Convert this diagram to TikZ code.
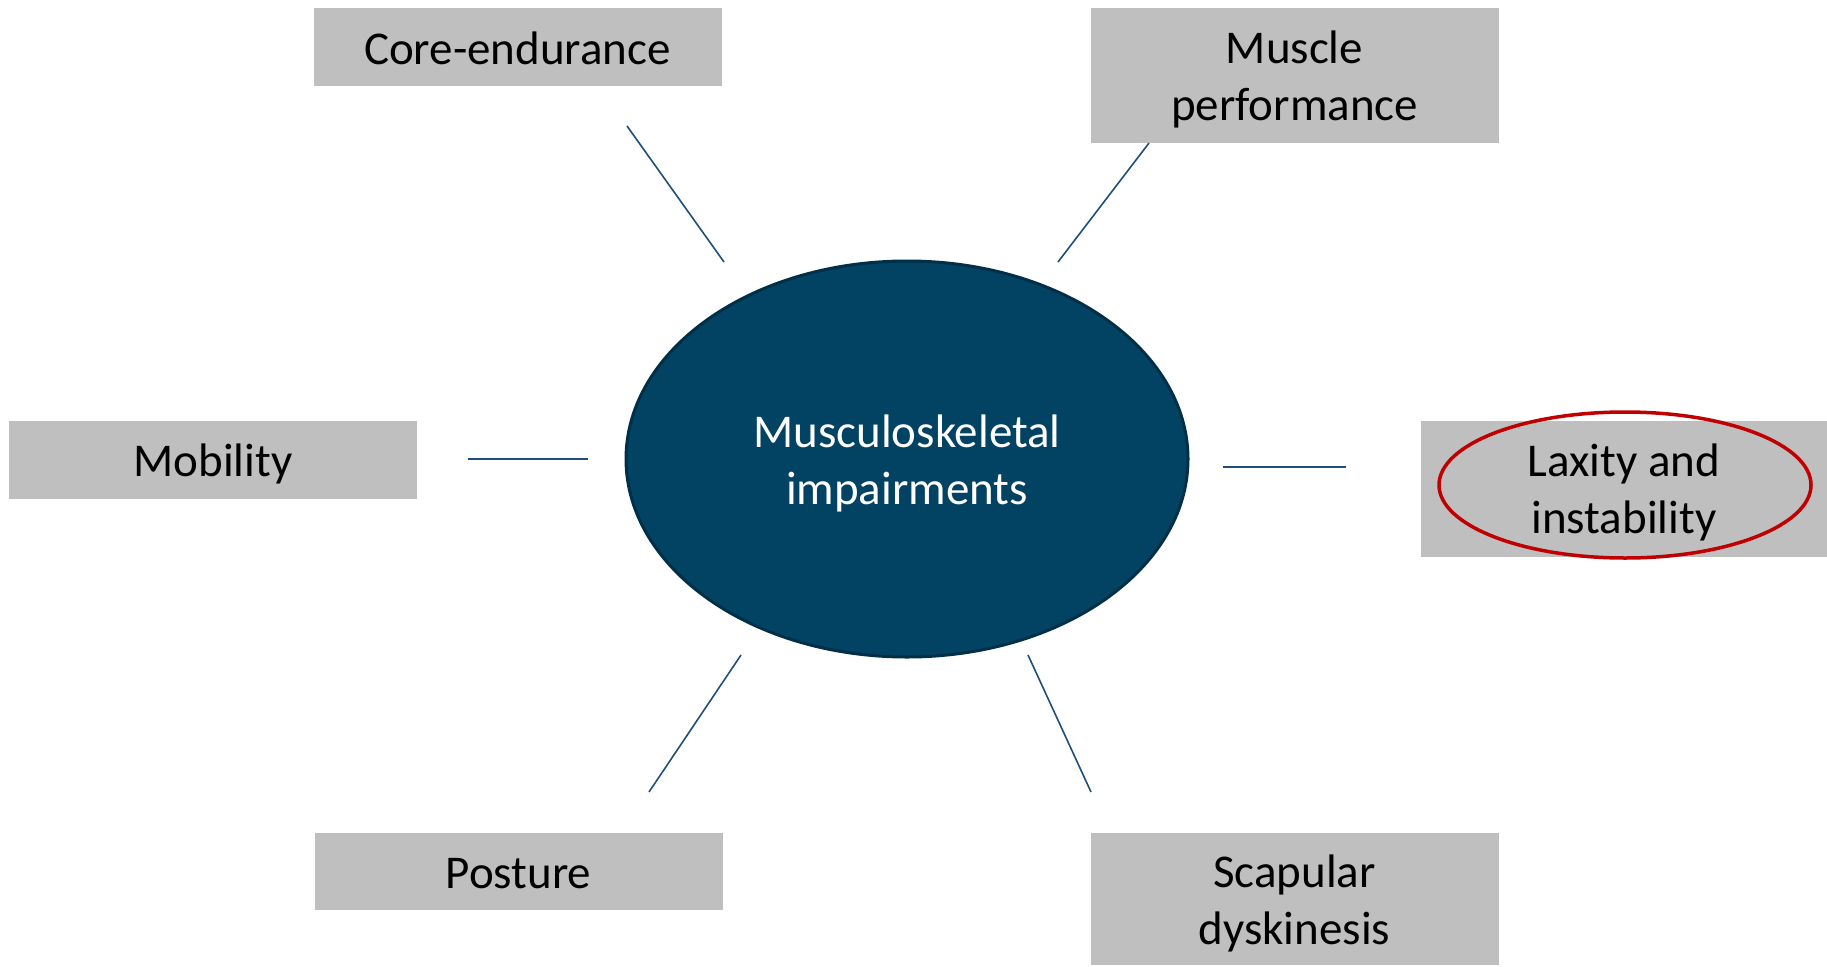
\documentclass[tikz,border=0pt]{standalone}
\usepackage{fontspec}
\setmainfont{Carlito}
\usetikzlibrary{shapes.geometric}
\definecolor{boxgray}{HTML}{BFBFBF}
\definecolor{centerfill}{HTML}{024263}
\definecolor{centerline}{HTML}{012F48}
\definecolor{linkblue}{HTML}{1F4E79}
\definecolor{hlred}{HTML}{C00000}
\tikzset{
  factorbox/.style={fill=boxgray, inner sep=0pt, outer sep=0pt, minimum width=408pt},
  boxtext/.style={inner sep=0pt, align=center, font=\fontsize{47}{57}\selectfont, text=black},
  hub/.style={ellipse, fill=centerfill, draw=centerline, line width=3pt, inner sep=0pt,
    minimum width=562pt, minimum height=396pt},
  hubtext/.style={inner sep=0pt, align=center, text=white, font=\fontsize{47}{57}\selectfont},
  link/.style={draw=linkblue, line width=1.6pt},
  highlight/.style={ellipse, draw=hlred, line width=3.5pt, inner sep=0pt, minimum width=372pt, minimum height=146pt}
}
\begin{document}
\begin{tikzpicture}[x=1pt,y=-1pt]
\useasboundingbox (0,0) rectangle (1827,966);
\node[hub] (hub) at (907,459) {};
\node[hubtext] (hubt) at ([yshift=-4pt]hub.center) {Musculoskeletal\\impairments};
\node[factorbox, minimum height=78pt] (core) at (517.5,47) {};
\node[boxtext] (coret) at ([yshift=-1.5pt]core.center) {Core-endurance};
\node[factorbox, minimum height=135pt] (muscle) at (1294.5,75.5) {};
\node[boxtext] (musclet) at ([yshift=-3.5pt]muscle.center) {Muscle\\performance};
\node[factorbox, minimum height=78pt] (mob) at (213,460) {};
\node[boxtext] (mobt) at ([yshift=-3.5pt]mob.center) {Mobility};
\node[factorbox, minimum width=406pt, minimum height=136pt] (lax) at (1624,489) {};
\node[boxtext] (laxt) at ([yshift=-3pt]lax.center) {Laxity and\\instability};
\node[highlight] (laxring) at (1625,485) {};
\node[factorbox, minimum height=77pt] (post) at (518.5,871.5) {};
\node[boxtext] (postt) at ([yshift=-2.5pt]post.center) {Posture};
\node[factorbox, minimum height=132pt] (scap) at (1294.5,899) {};
\node[boxtext] (scapt) at ([yshift=-4.5pt]scap.center) {Scapular\\dyskinesis};
\coordinate (c1) at (627,126); \coordinate (c2) at (724,262);
\coordinate (m1) at (1149,143); \coordinate (m2) at (1058,262);
\coordinate (b1) at (468,459); \coordinate (b2) at (588,459);
\coordinate (l1) at (1223,467); \coordinate (l2) at (1346,467);
\coordinate (p1) at (741,655); \coordinate (p2) at (649,792);
\coordinate (s1) at (1028,655); \coordinate (s2) at (1091,792);
\draw[link] (c1) -- (c2);
\draw[link] (m1) -- (m2);
\draw[link] (b1) -- (b2);
\draw[link] (l1) -- (l2);
\draw[link] (p1) -- (p2);
\draw[link] (s1) -- (s2);
\end{tikzpicture}
\end{document}
